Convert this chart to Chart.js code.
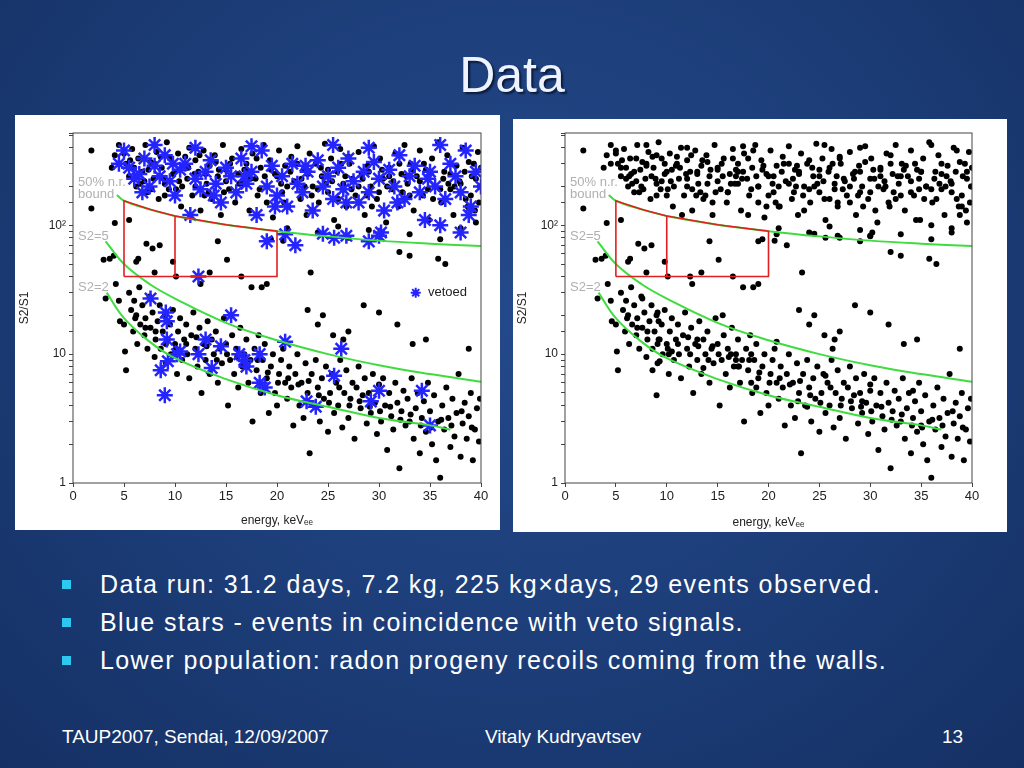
<!DOCTYPE html>
<html>
<head>
<meta charset="utf-8">
<script src="https://cdn.jsdelivr.net/npm/chart.js@4"></script>
<style>
  html, body { margin: 0; padding: 0; }
  body {
    width: 1024px; height: 768px; overflow: hidden; position: relative;
    font-family: "Liberation Sans", Arial, sans-serif;
    background: radial-gradient(ellipse at 50% 40%, #24498a 0%, #1c3d78 55%, #153064 100%);
  }
  #title {
    position: absolute; top: 46px; left: 0; width: 1024px; text-align: center;
    font-size: 50px; color: #eef3ff; text-shadow: 2px 2px 2px #0a1a3a;
  }
  .box { position: absolute; background: #fff; }
  #boxL { left: 15px; top: 115px; width: 485px; height: 415px; }
  #boxR { left: 513px; top: 119px; width: 494px; height: 413px; }
  .box canvas { display: block; }
  ul { position: absolute; left: 62px; top: 566px; margin: 0; padding: 0; list-style: none; }
  li { position: relative; padding-left: 38px; color: #fff; font-size: 25px; letter-spacing: 1.4px; height: 38px; line-height: 36px; white-space: nowrap; }
  li:before { content: ""; position: absolute; left: 0; top: 14px; width: 9px; height: 9px; background: #2cc8f2; }
  .foot { position: absolute; top: 726px; color: #fff; font-size: 19px; }
</style>
</head>
<body>
<div id="title">Data</div>
<div class="box" id="boxL"><canvas id="chartL" width="485" height="415"></canvas></div>
<div class="box" id="boxR"><canvas id="chartR" width="494" height="413"></canvas></div>
<ul>
  <li>Data run: 31.2 days, 7.2 kg, 225 kg×days, 29 events observed.</li>
  <li>Blue stars - events in coincidence with veto signals.</li>
  <li>Lower population: radon progeny recoils coming from the walls.</li>
</ul>
<div class="foot" style="left:62px">TAUP2007, Sendai, 12/09/2007</div>
<div class="foot" style="left:485px">Vitaly Kudryavtsev</div>
<div class="foot" style="left:942px">13</div>
<script>
// верхняя полоса (электронные отдачи)
const upperBlack = [
[1.8,380],[1.8,135],[3.8,280],[4.1,350],[4.5,420],[5.2,300],[5.5,240],[5.8,390],[6.2,200],[6.4,330],[6.8,260],[7.1,420],[7.3,180],[7.6,310],[7.9,230],[8.2,370],[8.4,160],[8.7,280],[9.0,210],[9.2,440],[9.5,330],[9.8,250],[10.1,190],[10.3,360],[10.6,140],[10.9,290],[11.2,230],[11.4,400],[11.7,170],[12.0,320],[12.3,260],[12.5,130],[12.8,380],[13.1,210],[13.4,290],[13.6,160],[13.9,350],[14.2,240],[14.5,120],[14.7,420],[15.0,270],[15.3,190],[15.6,330],[15.9,150],[16.2,250],[16.5,390],[16.7,210],[17.0,300],[17.3,130],[17.6,360],[17.9,230],[18.1,170],[18.4,280],[18.7,420],[19.0,200],[19.3,320],[19.6,115],[19.8,250],[20.2,380],[20.5,180],[20.8,290],[21.1,140],[21.4,340],[21.7,220],[22.0,410],[22.3,160],[22.6,270],[22.9,120],[23.2,360],[23.5,200],[23.8,300],[24.1,150],[24.4,240],[24.7,430],[25.0,180],[25.3,330],[25.6,110],[25.9,260],[26.2,390],[26.5,210],[26.8,140],[27.1,300],[27.4,230],[27.7,170],[28.0,370],[28.3,250],[28.6,120],[28.9,290],[29.2,200],[29.5,410],[29.8,160],[30.1,330],[30.4,230],[30.7,105],[31.0,280],[31.3,190],[31.6,360],[31.9,140],[32.2,250],[32.5,420],[32.8,210],[33.1,300],[33.4,130],[33.7,240],[34.0,380],[34.3,170],[34.6,270],[34.9,110],[35.2,330],[35.5,200],[35.8,440],[36.1,150],[36.4,260],[36.7,350],[37.0,190],[37.3,120],[37.6,290],[37.9,220],[38.2,400],[38.5,160],[38.8,310],[39.1,240],[39.4,130],[39.7,370],[39.9,200],
[5.0,360],[6.0,280],[7.0,220],[8.0,300],[9.0,170],[10.0,260],[11.0,340],[12.0,200],[13.0,250],[14.0,310],[15.0,220],[16.0,180],[17.0,260],[18.0,330],[19.0,150],[20.0,240],[21.0,200],[22.0,300],[23.0,250],[24.0,190],[25.0,270],[26.0,160],[27.0,340],[28.0,200],[29.0,260],[30.0,180],[31.0,240],[32.0,300],[33.0,170],[34.0,220],[35.0,260],[36.0,190],[37.0,250],[38.0,210],[39.0,170],[40.0,280],
[5.6,320],[6.6,210],[7.4,270],[8.6,340],[9.4,190],[10.4,220],[11.3,280],[12.4,350],[13.3,180],[14.3,270],[15.4,300],[16.3,210],[17.4,230],[18.3,190],[19.4,270],[20.4,210],[21.3,260],[22.4,230],[23.4,170],[24.3,280],[25.4,220],[26.3,300],[27.3,190],[28.4,230],[29.3,140],[30.3,270],[31.4,220],[32.3,180],[33.3,270],[34.4,300],[35.3,160],[36.3,230],[37.4,200],[38.4,260],[39.3,300],[39.8,150],
[6.3,240],[7.7,190],[8.9,230],[10.7,200],[11.9,250],[12.9,170],[14.8,180],[16.8,270],[18.8,240],[20.7,150],[22.7,200],[24.8,210],[26.7,240],[28.8,170],[30.8,200],[32.7,240],[34.8,190],[36.8,210],[38.7,140],[39.5,230],
[21,95],[24,88],[27,80],[29,92],[33,85],[36,78],[38,95],[39.5,105],[30,82],[26,98]
];
// редкие события между полосами
const midBlack = [
[8,43],[8.5,70],[6.2,52],[6.4,55],[7.2,72],[7.8,66],[9.8,52],[10.1,40],[5.5,110],[4.1,104],[14.2,75],[15.1,54],[19.4,78],[20.6,76],[23.3,43],[32,62],[33,58],[35.8,55],[36.5,50],[3,54],[3.6,55],[4,58],[13.4,43],[16.5,40],[17.5,33],[18.5,33],[19,35],[12.5,35]
];
// нижняя популяция (отдачи от стенок)
const lowerBlack = [
[3.2,27],[4.2,35],[4.5,26],[4.6,18],[5.0,17],[5.1,10.5],[5.2,7.5],[5.5,30],[5.7,22],[5.9,15],[6.0,26],[6.2,20],[6.3,12],[6.5,33],[6.6,17],[6.8,24],[7.0,14],[7.1,19],[7.3,11],[7.5,28],[7.6,16],[7.8,21],[8.0,9.5],[8.1,13],[8.3,18],[8.5,24],[8.6,11],[8.8,15],[9.0,20],[9.1,8.5],[9.3,13],[9.5,17],[9.6,10],[9.8,22],[10.0,12],[10.2,7],[10.3,15],[10.5,19],[10.7,9],[10.9,13],
[11.1,17],[11.2,10],[11.4,6.5],[11.6,14],[11.8,21],[12.0,11],[12.2,8],[12.4,16],[12.6,5],[12.8,12],[13.0,9],[13.2,18],[13.4,7],[13.6,13],[13.8,10],[14.0,15],[14.2,6],[14.4,11],[14.6,8.5],[14.8,19],[15.0,12],[15.2,4],[15.4,9],[15.6,14],[15.8,7],[16.0,11],[16.2,5.5],[16.4,16],[16.6,8],[16.8,10],[17.0,13],[17.2,6],[17.4,9],[17.6,3],[17.8,11],[18.0,7.5],[18.2,14],[18.4,5],[18.6,9],[18.8,12],[19.0,6.5],[19.2,3.5],[19.4,8],[19.6,10],[19.8,5],[20.0,4],[20.2,7],[20.4,9],[20.6,11],[20.8,6],
[21.0,4.5],[21.2,8],[21.4,5.5],[21.6,2.8],[21.8,7],[22.0,10],[22.2,4],[22.4,6],[22.6,3.2],[22.8,8.5],[23.0,5],[23.2,1.7],[23.4,7],[23.6,4],[23.8,9],[24.0,5.5],[24.2,3],[24.4,6.5],[24.6,4.5],[24.8,8],[25.0,2.5],[25.2,5],[25.4,7],[25.6,3.5],[25.8,6],[26.0,4],[26.2,9],[26.4,2.7],[26.6,5],[26.8,7.5],[27.0,3.2],[27.2,4.5],[27.4,6],[27.6,2.2],[27.8,5.5],[28.0,8],[28.2,3.8],[28.4,4.8],[28.6,6.5],[28.8,2.9],[29.0,5],[29.2,3.5],[29.4,7],[29.6,4.2],[29.8,2.4],[30.0,5.8],[30.2,3],[30.4,6.5],[30.6,4],[30.8,1.8],
[31.0,5],[31.2,3.3],[31.4,2.6],[31.6,6],[31.8,4.2],[32.0,1.3],[32.2,3.6],[32.4,5.2],[32.6,2.8],[32.8,4.5],[33.0,3],[33.2,6.5],[33.4,2.2],[33.6,3.8],[33.8,5],[34.0,1.7],[34.2,3.2],[34.4,4.3],[34.6,2.5],[34.8,6],[35.0,3.6],[35.2,2],[35.4,4.8],[35.6,1.5],[35.8,3],[36.0,1.1],[36.2,4],[36.4,2.6],[36.6,5.5],[36.8,3.2],[37.0,1.9],[37.2,4.5],[37.4,2.3],[37.6,3.5],[37.8,7],[38.0,1.6],[38.2,2.9],[38.4,4.2],[38.6,2.2],[38.8,3.3],[39.0,5],[39.2,1.5],[39.4,2.6],[39.6,3.8],[39.8,2.1],[39.9,4.5],
[24,17],[24.5,20],[23,22],[26.5,13],[28.5,24],[30,21],[31.8,17],[33.3,12],[34.6,13],[38.8,11],[27,15],[25.5,14],
[12.1,13.5],[13.1,11.5],[14.1,9],[15.1,10],[16.1,9.5],[17.1,8],[18.1,9],[19.1,7.2],[20.1,6],[21.1,6.5],[22.1,5.8],[23.1,6.2],[24.1,4.8],[25.1,4.2],[26.1,5.5],[27.1,4],[28.1,4.3],[29.1,3.9],[30.1,3.6],[31.1,3.9],[32.1,3.1],[33.1,3.4],[34.1,2.8],[35.1,2.7],[36.1,3.1],[37.1,2.8],[38.1,3.6],[39.1,2.7],[6.1,19],[7.1,16],[8.1,15],[9.1,12],[10.1,11],[11.1,12]
];
// события в совпадении с вето
const vetoed = [
[4.5,300],[5.5,280],[6,230],[6.5,250],[7,330],[7.5,200],[8,290],[8.5,240],[9,350],[9.5,220],[10,170],[10.5,270],[11,300],[11.5,120],[12,230],[12.5,190],[13,260],[13.5,320],[14,210],[14.5,150],[15,280],[15.5,240],[16,180],[16.5,330],[17,210],[17.5,260],[18,120],[18.5,380],[19,200],[19.5,290],[20,170],[20.5,240],[21,140],[21.5,300],[22,210],[22.5,180],[23,260],[23.5,130],[24,320],[24.5,200],[25,240],[25.5,160],[26,280],[26.5,190],[27,330],[27.5,220],[28,150],[28.5,260],[29,180],[29.5,310],[30,230],[30.5,130],[31,270],[31.5,200],[32,350],[32.5,160],[33,240],[33.5,290],[34,180],[34.5,110],[35,260],[35.5,200],[36,420],[36.5,160],[37,300],[37.5,240],[38,180],[38.5,380],[39,140],[39.5,260],[40,200],[5,380],[8,420],[12,400],[17.5,410],[25.5,420],[29,400],
[6.8,180],[9.8,300],[13.8,170],[16.8,240],[19.8,140],[22.8,290],[26.8,150],[31.8,150],[34.8,230],[38.8,120],
[19,75],[20.8,85],[21.8,70],[24.5,86],[25.6,80],[26.8,83],[29,75],[30,83],[30.2,88],[38,88],[36,100],
[7.6,27],[9.1,21],[9.2,18],[9.2,13],[8.6,7.5],[9.3,8.8],[9,4.8],[10.2,10],[12.3,10],[12.3,40],[13,13],[13.6,7.8],[14.5,11.5],[15.5,20],[16.3,10],[16.8,9],[17,8],[18.3,10],[18.3,6],[18.8,5.5],[20.8,12.5],[22.9,4.3],[23.8,3.9],[25.6,6.8],[26.3,11],[29.2,4.3],[30,5.2],[34.2,5.2],[35,2.8],[10.5,10.5]
];
// кривые
const nrBound = [[4.3,172],[5,155],[7.5,133],[10,118],[15,101],[20,90],[25,82],[30,76],[35,72],[40,69]];
const s2eq5 = [[3.2,75],[5,50],[7.5,35],[10,27],[15,17.5],[20,12.8],[25,10],[30,8.2],[35,7],[40,6.1]];
const s2eq2 = [[3.3,30],[5,19],[7.5,12.5],[10,9.3],[15,6.4],[20,4.8],[25,3.9],[30,3.2],[35,2.8],[37,2.6]];
const boxOuter = [[5,40],[5,155],[7.5,133],[10,118],[15,101],[20,90],[20,40],[5,40]];
const boxInner = [[10,118],[10,40]];
const xTicks = [0,5,10,15,20,25,30,35,40];

const pts = a => a.map(p => ({ x: p[0], y: p[1] }));

const framePlugin = {
  id: 'frame',
  afterDatasetsDraw(chart, args, opts) {
    const { ctx, chartArea: a, scales } = chart;
    ctx.save();
    ctx.strokeStyle = '#444';
    ctx.lineWidth = 1;
    ctx.strokeRect(a.left, a.top, a.right - a.left, a.bottom - a.top);
    ctx.font = '13px "Liberation Sans", Arial';
    ctx.fillStyle = '#b0b0b0';
    ctx.textBaseline = 'middle';
    const X = v => scales.x.getPixelForValue(v), Y = v => scales.y.getPixelForValue(v);
    ctx.fillText('50% n.r.', X(0.5), Y(215));
    ctx.fillText('bound', X(0.5), Y(172));
    ctx.fillText('S2=5', X(0.5), Y(82));
    ctx.fillText('S2=2', X(0.5), Y(33));
    if (opts.veto) {
      ctx.fillStyle = '#222';
      ctx.fillText('vetoed', X(34.8), Y(30));
    }
    ctx.restore();
  }
};

function makeChart(id, showVeto, pad, yw, xh) {
  const black = showVeto ? upperBlack.concat(midBlack, lowerBlack) : upperBlack.concat(midBlack, lowerBlack, vetoed);
  const datasets = [
    { type: 'scatter', data: pts(black), pointRadius: 3, pointBackgroundColor: '#000', pointBorderWidth: 0, order: 3 },
    { type: 'line', data: pts(nrBound), borderColor: '#3fdc3f', borderWidth: 2, pointRadius: 0, tension: 0.4, order: 1 },
    { type: 'line', data: pts(s2eq5), borderColor: '#3fdc3f', borderWidth: 2, pointRadius: 0, tension: 0.4, order: 1 },
    { type: 'line', data: pts(s2eq2), borderColor: '#3fdc3f', borderWidth: 2, pointRadius: 0, tension: 0.4, order: 1 },
    { type: 'line', data: pts(boxOuter), borderColor: '#e02020', borderWidth: 1.6, pointRadius: 0, tension: 0, order: 0 },
    { type: 'line', data: pts(boxInner), borderColor: '#e02020', borderWidth: 1.6, pointRadius: 0, tension: 0, order: 0 }
  ];
  if (showVeto) {
    datasets.push({ type: 'scatter', data: pts(vetoed), pointStyle: 'star', pointRadius: 8,
      borderColor: '#2424ff', pointBorderWidth: 2.5, order: 2 });
    datasets.push({ type: 'scatter', data: [{ x: 33.6, y: 30 }], pointStyle: 'star', pointRadius: 5,
      borderColor: '#2424ff', pointBorderWidth: 2, order: 2 });
  }
  const f = sz => ({ size: sz, family: '"Liberation Sans", Arial' });
  return new Chart(document.getElementById(id), {
    data: { datasets },
    plugins: [framePlugin],
    options: {
      responsive: false, animation: false, events: [],
      layout: { padding: pad },
      plugins: { legend: { display: false }, tooltip: { enabled: false }, frame: { veto: showVeto } },
      scales: {
        x: {
          type: 'linear', min: 0, max: 40,
          afterBuildTicks: s => { s.ticks = xTicks.map(v => ({ value: v })); },
          afterFit: s => { s.height = xh; },
          grid: { color: 'rgba(0,0,0,0)', tickColor: '#444', tickLength: 4 },
          border: { display: false },
          ticks: { color: '#222', font: f(13), padding: 2 },
          title: { display: true, text: 'energy, keV\u2091\u2091', color: '#222', font: f(12), padding: 2 }
        },
        y: {
          type: 'logarithmic', min: 1, max: 520,
          afterFit: s => { s.width = yw; },
          grid: { color: 'rgba(0,0,0,0)', tickColor: '#444', tickLength: 4 },
          border: { display: false },
          ticks: { autoSkip: false, color: '#222', font: f(12),
            callback: v => v === 1 ? '1' : v === 10 ? '10' : v === 100 ? '10\u00b2' : '' },
          title: { display: true, text: 'S2/S1', color: '#222', font: f(12), padding: 2 }
        }
      }
    }
  });
}

window.addEventListener('DOMContentLoaded', () => {
  makeChart('chartL', true, { top: 18, right: 19, left: 0, bottom: 0 }, 58, 47);
  makeChart('chartR', false, { top: 14, right: 35, left: 0, bottom: 0 }, 52, 49);
});
</script>
</body>
</html>
